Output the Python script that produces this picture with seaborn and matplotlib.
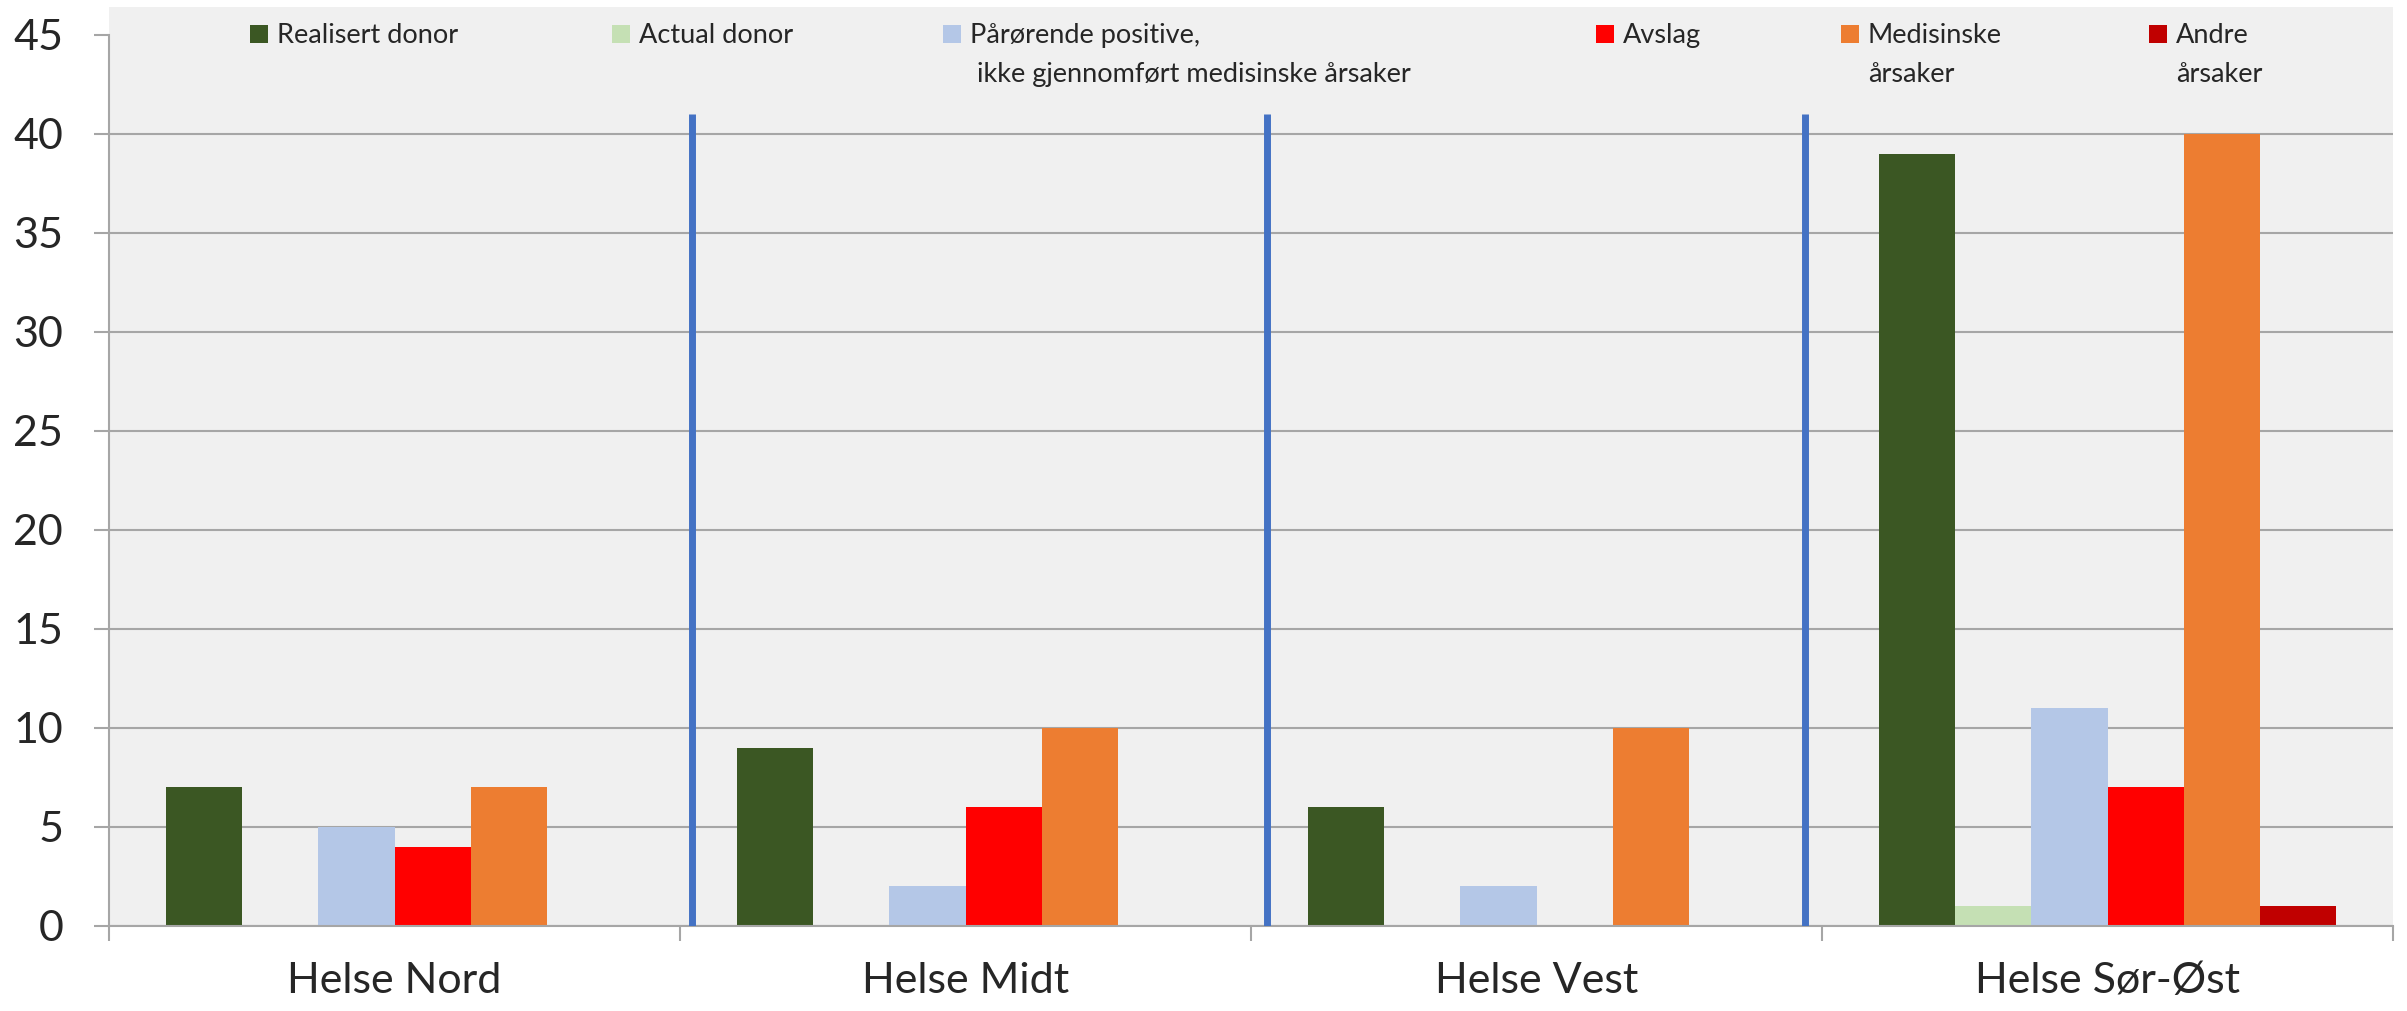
import matplotlib
matplotlib.use("Agg")
import matplotlib.pyplot as plt
import seaborn as sns
import pandas as pd

sns.set_style("white")
plt.rcParams['font.family'] = ['Lato', 'DejaVu Sans']

# data
regions = ['Helse Nord', 'Helse Midt', 'Helse Vest', 'Helse Sør-Øst']
series = ['Realisert donor', 'Actual donor',
          'Pårørende positive,\n ikke gjennomført medisinske årsaker',
          'Avslag', 'Medisinske\nårsaker', 'Andre\nårsaker']
realisert = [7, 9, 6, 39]
actual = [0, 0, 0, 1]
parorende = [5, 2, 2, 11]
avslag = [4, 6, 0, 7]
medisinske = [7, 10, 10, 40]
andre = [0, 0, 0, 1]
separators = [0.521, 1.528, 2.470]
separator_top = 41

colors = ['#3B5723', '#C5E0B4', '#B4C7E7', '#FF0000', '#ED7D31', '#C00000']
grid_col = '#A6A6A6'

rows = []
for s, vals in zip(series, [realisert, actual, parorende, avslag, medisinske, andre]):
    for r, v in zip(regions, vals):
        rows.append({'region': r, 'series': s, 'value': v})
df = pd.DataFrame(rows)

fig = plt.figure(figsize=(24.07, 10.11), dpi=100)
ax = fig.add_axes([0.0453, 0.0841, 0.9489, 0.9090])
ax.set_facecolor('#F0F0F0')

sns.barplot(data=df, x='region', y='value', hue='series', order=regions,
            hue_order=series, palette=colors, saturation=1, width=0.8,
            gap=0, linewidth=0, legend=False, ax=ax, errorbar=None)

ax.vlines(separators, 0, separator_top, color='#4472C4', linewidth=5, zorder=3)

ax.set_xlim(-0.5, 3.5)
ax.set_ylim(0, 46.4)
ax.set_yticks(range(0, 46, 5))
ax.set_xlabel('')
ax.set_ylabel('')

# gridlines (none at 45)
ax.yaxis.grid(True, color=grid_col, linewidth=1.5)
ax.set_axisbelow(True)
ax.get_ygridlines()[-1].set_visible(False)

for side in ['top', 'right']:
    ax.spines[side].set_visible(False)
ax.spines['left'].set_bounds(0, 45)
ax.spines['left'].set_color(grid_col)
ax.spines['left'].set_linewidth(1.5)
ax.spines['bottom'].set_color(grid_col)
ax.spines['bottom'].set_linewidth(1.5)

ax.tick_params(axis='y', which='major', length=11, width=1.5, color=grid_col,
               pad=22, labelsize=31, direction='out', left=True)
ax.set_xticks([-0.5, 0.5, 1.5, 2.5, 3.5], minor=True)
ax.tick_params(axis='x', which='minor', length=11, width=1.5, color=grid_col,
               direction='out', bottom=True)
ax.tick_params(axis='x', which='major', length=0, pad=26, labelsize=31)

# legend drawn by hand, one text per line
leg_x = [0.0618, 0.2203, 0.3652, 0.6511, 0.7583, 0.8932]
leg_y = 0.9706
line_y = [0.9608, 0.9184]
for x, lab, c in zip(leg_x, series, colors):
    ax.scatter([x + 0.0039], [leg_y], marker='s', s=160, color=c,
               transform=ax.transAxes, clip_on=False, zorder=4, linewidths=0)
    for line, y in zip(lab.split('\n'), line_y):
        ax.text(x + 0.0118, y, line, transform=ax.transAxes, fontsize=19.5,
                va='baseline', ha='left')

fig.savefig('out.png', dpi=100)
